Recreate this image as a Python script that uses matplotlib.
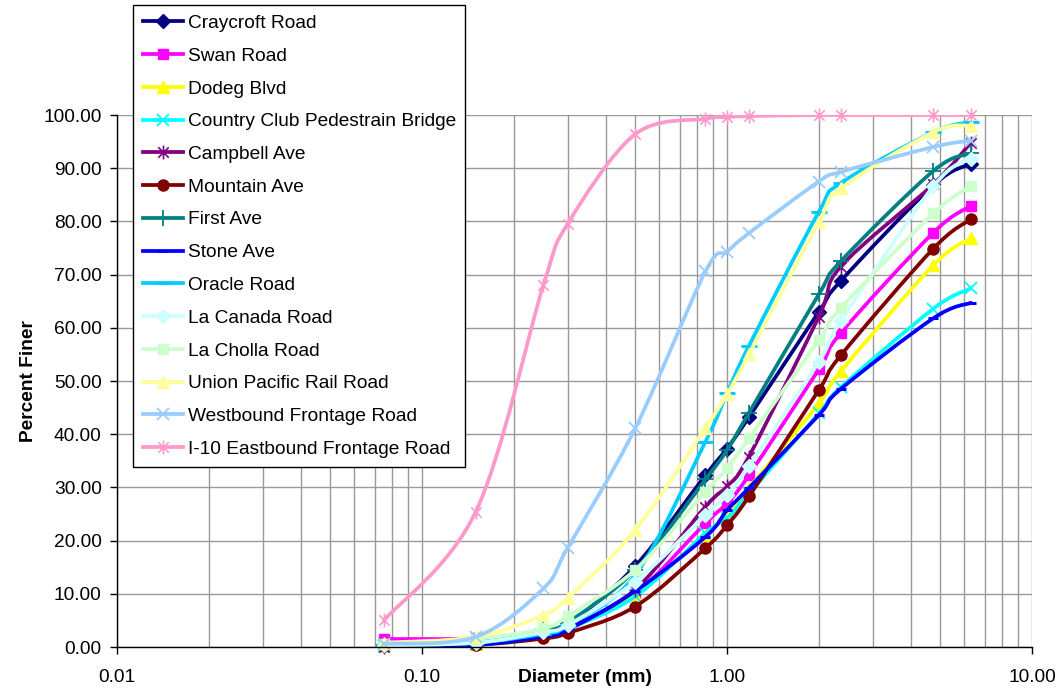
"""
Grain size distribution curves (Percent Finer vs Diameter) for all sampling sites.
Excel-style smoothed lines on a log x-axis.
"""

import numpy as np
import matplotlib
matplotlib.use("Agg")
import matplotlib.pyplot as plt
from matplotlib.path import Path
from matplotlib.patches import PathPatch
import matplotlib.lines as mlines

plt.rcParams["font.family"] = ["Liberation Sans", "DejaVu Sans"]

# ── Data ─────────────────────────────────────────────────────────
sieve_mm = [0.075, 0.15, 0.25, 0.3, 0.5, 0.85, 1.0, 1.18, 2.0, 2.36, 4.75, 6.3]

site_names = [
    "Craycroft Road", "Swan Road", "Dodeg Blvd", "Country Club Pedestrain Bridge",
    "Campbell Ave", "Mountain Ave", "First Ave", "Stone Ave", "Oracle Road",
    "La Canada Road", "La Cholla Road", "Union Pacific Rail Road",
    "Westbound Frontage Road", "I-10 Eastbound Frontage Road",
]

craycroft = [0.3, 0.9, 3.0, 4.2, 15.2, 32.3, 37.3, 43.2, 63.0, 68.8, 86.8, 90.8]
swan = [1.5, 1.6, 2.6, 3.6, 10.0, 23.3, 27.0, 32.3, 52.2, 59.0, 77.9, 82.9]
dodeg = [0.3, 0.6, 2.3, 3.3, 9.8, 21.1, 25.2, 29.9, 45.8, 51.8, 71.8, 76.8]
country_club = [0.2, 0.5, 2.4, 3.4, 9.5, 21.4, 24.2, 28.9, 43.9, 48.8, 63.6, 67.4]
campbell = [0.0, 0.5, 2.6, 3.6, 10.8, 26.4, 30.2, 35.8, 62.1, 71.5, 87.0, 94.8]
mountain = [0.2, 0.4, 1.6, 2.6, 7.6, 18.6, 22.9, 28.3, 48.3, 54.8, 74.9, 80.4]
first_ave = [0.4, 1.0, 3.3, 4.6, 14.5, 31.5, 37.0, 44.0, 66.3, 72.5, 89.5, 92.8]
stone = [0.1, 0.4, 2.0, 3.2, 10.5, 20.7, 25.7, 29.9, 43.6, 48.5, 61.8, 64.7]
oracle = [0.3, 0.8, 2.5, 4.0, 13.5, 38.6, 47.7, 56.6, 81.8, 87.2, 96.8, 98.6]
la_canada = [0.3, 0.8, 2.8, 4.1, 12.3, 24.8, 28.6, 34.0, 53.6, 61.2, 86.6, 91.8]
la_cholla = [0.5, 1.5, 3.5, 5.8, 14.5, 29.2, 33.6, 39.2, 57.7, 63.7, 81.5, 86.7]
union_pacific = [0.8, 1.9, 6.0, 9.2, 22.0, 41.2, 47.5, 55.0, 79.9, 86.2, 96.8, 98.0]
westbound = [0.6, 1.9, 11.0, 18.6, 41.1, 70.6, 74.3, 77.8, 87.5, 89.3, 94.0, 95.2]
i10_east = [5.0, 25.4, 68.0, 79.5, 96.4, 99.3, 99.6, 99.8, 100.0, 100.0, 100.0, 100.0]

site_values = [craycroft, swan, dodeg, country_club, campbell, mountain, first_ave,
               stone, oracle, la_canada, la_cholla, union_pacific, westbound, i10_east]

# Excel 2003 default series colours
colors = ["#000080", "#FF00FF", "#FFFF00", "#00FFFF", "#800080", "#800000", "#008080",
          "#0000FF", "#00CCFF", "#CCFFFF", "#CCFFCC", "#FFFF99", "#99CCFF", "#FF99CC"]

# Excel-like "star" marker: vertical bar + X
STAR = Path([(0, -1), (0, 1), (-0.75, -0.75), (0.75, 0.75), (-0.75, 0.75), (0.75, -0.75)],
            [Path.MOVETO, Path.LINETO] * 3)

# (marker, size, edge width, filled)
markers = [("D", 7, 1, True), ("s", 7, 1, True), ("^", 8, 1, True), ("x", 9, 1.3, False),
           (STAR, 10, 1.2, False), ("o", 8, 1, True), ("+", 11, 1.3, False),
           ("_", 7, 2.2, False), ("_", 11, 2.2, False),
           ("D", 7, 1, True), ("s", 7, 1, True), ("^", 8, 1, True), ("x", 9, 1.3, False),
           (STAR, 10, 1.2, False)]


def smooth_path(x, y):
    """Bezier path through the points (Catmull-Rom control points in log-x space)."""
    pts = np.column_stack([np.log10(x), y])
    n = len(pts)
    verts = [pts[0]]
    codes = [Path.MOVETO]
    for i in range(n - 1):
        p0 = pts[i - 1] if i > 0 else pts[i]
        p1, p2 = pts[i], pts[i + 1]
        p3 = pts[i + 2] if i + 2 < n else pts[i + 1]
        verts += [p1 + (p2 - p0) / 6, p2 - (p3 - p1) / 6, p2]
        codes += [Path.CURVE4] * 3
    verts = np.array(verts)
    verts[:, 0] = 10 ** verts[:, 0]
    return Path(verts, codes)


# ── Plot ─────────────────────────────────────────────────────────
fig = plt.figure(figsize=(10.6, 6.92), dpi=100)
ax = fig.add_axes([117 / 1060, 1 - 647 / 692, 915 / 1060, 532 / 692])

handles = []
for k, (name, vals) in enumerate(zip(site_names, site_values)):
    col = colors[k]
    mk, ms, mew, filled = markers[k]
    ax.add_patch(PathPatch(smooth_path(sieve_mm, vals), fill=False, edgecolor=col,
                           linewidth=2.7, zorder=3 + k * 0.1, capstyle="round",
                           joinstyle="round"))
    ax.plot(sieve_mm, vals, linestyle="none", marker=mk, markersize=ms,
            markerfacecolor=col if filled else "none", markeredgecolor=col,
            markeredgewidth=mew, zorder=3.05 + k * 0.1, clip_on=False)
    handles.append(mlines.Line2D([], [], color=col, linewidth=2.7, marker=mk,
                                 markersize=ms,
                                 markerfacecolor=col if filled else "none",
                                 markeredgecolor=col, markeredgewidth=mew, label=name))

ax.set_xscale("log")
ax.set_xlim(0.01, 10)
ax.set_ylim(0, 100)
ax.set_yticks(np.arange(0, 101, 10))
ax.yaxis.set_major_formatter(plt.FuncFormatter(lambda v, p: f"{v:.2f}"))
ax.set_xticks([0.01, 0.1, 1, 10])
ax.xaxis.set_major_formatter(plt.FuncFormatter(lambda v, p: f"{v:.2f}"))
ax.xaxis.set_minor_formatter(plt.NullFormatter())

ax.grid(True, which="both", axis="x", color="#999999", linewidth=1.0)
ax.grid(True, which="major", axis="y", color="#999999", linewidth=1.0)
ax.set_axisbelow(True)
for s in ["top", "right"]:
    ax.spines[s].set_visible(False)
for s in ["left", "bottom"]:
    ax.spines[s].set_color("black")
    ax.spines[s].set_linewidth(1.0)
    ax.spines[s].set_zorder(10)

ax.tick_params(axis="both", which="major", direction="out", length=5, width=1,
               labelsize=13.8, colors="black")
ax.tick_params(axis="y", pad=6)
ax.tick_params(axis="x", pad=11)
ax.tick_params(axis="x", which="minor", length=0)

ax.set_xlabel("Diameter (mm)", fontsize=13.8, fontweight="bold")
ax.set_ylabel("Percent Finer", fontsize=13.8, fontweight="bold")
ax.xaxis.set_label_coords(0.512, -0.041)
ax.yaxis.set_label_coords(-0.087, 0.5)

# ── Legende ──────────────────────────────────────────────────────
leg = fig.legend(handles=handles, loc="upper left",
                 bbox_to_anchor=(133 / 1060, 1 - 5 / 692),
                 fontsize=13.8, frameon=True, fancybox=False, framealpha=1,
                 edgecolor="black", borderpad=0.5, labelspacing=0.8,
                 handlelength=2.1, handletextpad=0.25, borderaxespad=0)
leg.get_frame().set_linewidth(1.0)
leg.set_zorder(20)

fig.savefig("out.png", dpi=100, facecolor="white")
plt.close()
